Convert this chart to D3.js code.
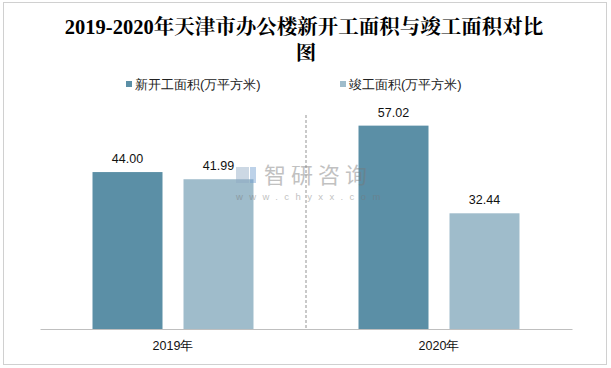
<!DOCTYPE html>
<html><head><meta charset="utf-8">
<script src="https://cdn.jsdelivr.net/npm/d3@7"></script>
<style>body{margin:0;background:#fff}svg{display:block}</style>
</head><body>
<svg id="c" width="611" height="368"></svg>
<script>
const categories = ["2019年", "2020年"];
const seriesNames = ["新开工面积(万平方米)", "竣工面积(万平方米)"];
const newStart = [44.00, 57.02];
const completed = [41.99, 32.44];
const colors = ["#5b8fa6", "#9fbccb"];

const svg = d3.select("#c");
const W = 611, H = 368;
svg.append("rect").attr("x",3.5).attr("y",2.5).attr("width",W-8).attr("height",H-6)
  .attr("fill","#fff").attr("stroke","#a0a0a0").attr("stroke-dasharray","1,1");

const font = "'Liberation Sans', Arial, sans-serif";
// Title
const title = svg.append("text").attr("text-anchor","middle")
  .attr("font-family","'Liberation Serif','Noto Serif CJK SC','Noto Sans CJK SC',serif")
  .attr("font-weight","bold").attr("font-size",20.5).attr("fill","#000");
title.append("tspan").attr("x",304).attr("y",34).text("2019-2020年天津市办公楼新开工面积与竣工面积对比");
title.append("tspan").attr("x",306).attr("y",60).text("图");

// Legend
const legX = [126, 340];
seriesNames.forEach((n,i)=>{
  svg.append("rect").attr("x",legX[i]).attr("y",81).attr("width",6).attr("height",6).attr("fill",colors[i]);
  svg.append("text").attr("x",legX[i]+9).attr("y",89).attr("font-family",font)
    .attr("font-size",13).attr("fill","#222").text(n);
});

const x0 = d3.scaleBand().domain(categories).range([40,572]);
const x1 = d3.scaleBand().domain([0,1]).range([0,x0.bandwidth()]).paddingInner(0.2308).paddingOuter(0.577);
const y = d3.scaleLinear().domain([0,60]).range([329,115]);

// separator
svg.append("line").attr("x1",x0("2020年")).attr("x2",x0("2020年")).attr("y1",115).attr("y2",329)
  .attr("stroke","#a6a6a6").attr("stroke-dasharray","3,2").attr("stroke-width",1.2);

const data = categories.map((c,i)=>({c, v:[newStart[i], completed[i]]}));
const g = svg.append("g");
data.forEach(d=>{
  d.v.forEach((v,j)=>{
    const bx = x0(d.c)+x1(j);
    g.append("rect").attr("x",bx).attr("y",y(v)).attr("width",x1.bandwidth())
      .attr("height",y(0)-y(v)).attr("fill",colors[j]);
    g.append("text").attr("x",bx+x1.bandwidth()/2).attr("y",y(v)-9)
      .attr("text-anchor","middle").attr("font-family",font).attr("font-size",12.5)
      .attr("fill","#111").text(v.toFixed(2));
  });
});

// watermark (on top of bars)
const wm = svg.append("g").attr("opacity",0.45);
wm.append("rect").attr("x",236).attr("y",167).attr("width",13).attr("height",16).attr("fill","#8fa9c4");
wm.append("rect").attr("x",250).attr("y",167).attr("width",6).attr("height",16).attr("fill","#6f9dd0");
wm.append("text").attr("x",264).attr("y",183).attr("font-family","'Noto Sans CJK SC',sans-serif")
  .attr("font-size",22).attr("fill","#777").attr("letter-spacing",5).text("智研咨询");
wm.append("text").attr("x",236).attr("y",200).attr("font-family",font)
  .attr("font-size",9.5).attr("fill","#777").attr("letter-spacing",6.4).text("www.chyxx.com");

// axis
const ax = svg.append("g").attr("transform","translate(0,329)")
  .call(d3.axisBottom(x0).tickSize(0).tickPadding(12));
ax.select(".domain").attr("stroke","#bfbfbf");
ax.selectAll("text").attr("font-family",font).attr("font-size",12.5).attr("fill","#111");
</script>
</body></html>
